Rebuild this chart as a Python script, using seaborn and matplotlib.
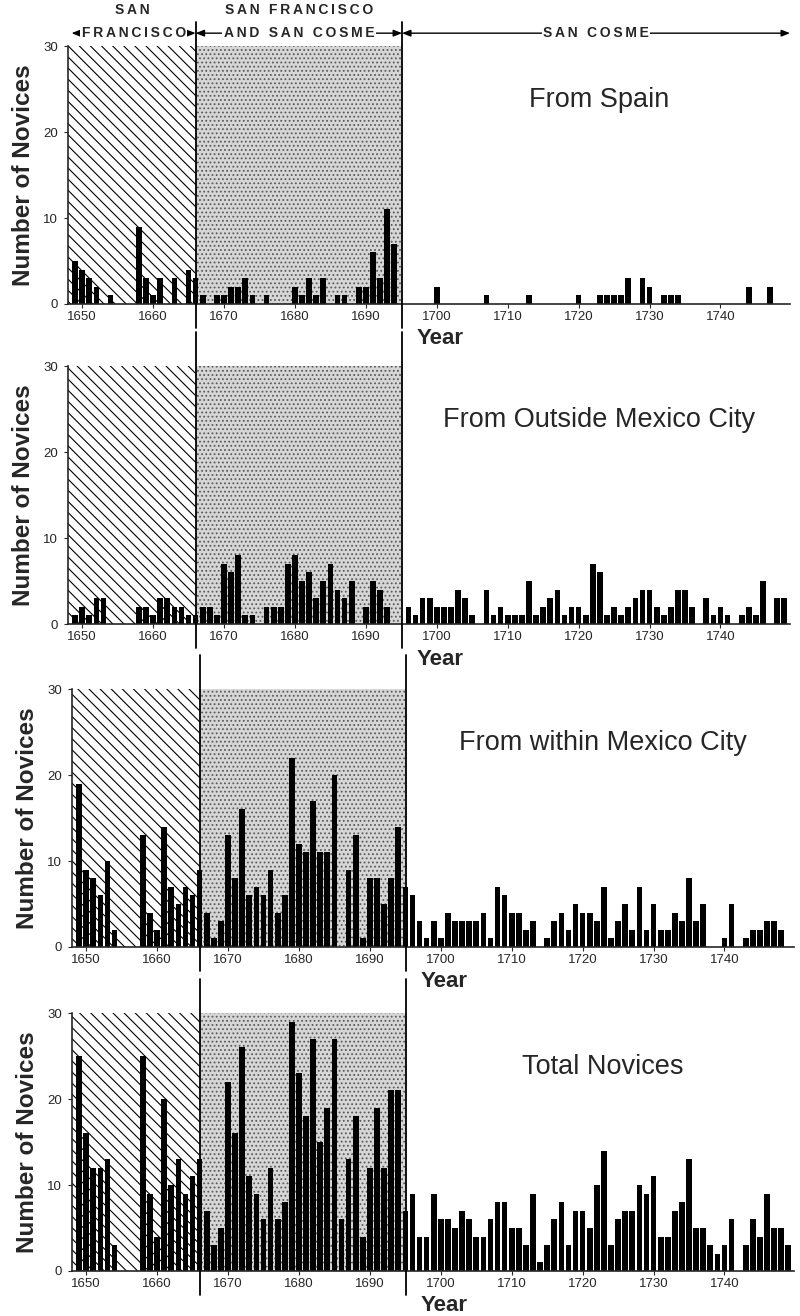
import matplotlib
matplotlib.use("Agg")
import matplotlib.pyplot as plt
import seaborn as sns

# novices entering per year, 1649-1749
years = list(range(1649, 1750))

spain = [5,
         4, 3, 2, 0, 1, 0, 0, 0, 9, 3,      # 1650s
         1, 3, 0, 3, 0, 4, 3, 1, 0, 1,      # 1660s
         1, 2, 2, 3, 1, 0, 1, 0, 0, 0,      # 1670s
         2, 1, 3, 1, 3, 0, 1, 1, 0, 2,      # 1680s
         2, 6, 3, 11, 7, 0, 0, 0, 0, 0,     # 1690s
         2, 0, 0, 0, 0, 0, 0, 1, 0, 0,      # 1700s
         0, 0, 0, 1, 0, 0, 0, 0, 0, 0,      # 1710s
         1, 0, 0, 1, 1, 1, 1, 3, 0, 3,      # 1720s
         2, 0, 1, 1, 1, 0, 0, 0, 0, 0,      # 1730s
         0, 0, 0, 0, 2, 0, 0, 2, 0, 0]      # 1740s

outside = [1,
           2, 1, 3, 3, 0, 0, 0, 0, 2, 2,
           1, 3, 3, 2, 2, 1, 1, 2, 2, 1,
           7, 6, 8, 1, 1, 0, 2, 2, 2, 7,
           8, 5, 6, 3, 5, 7, 4, 3, 5, 0,
           2, 5, 4, 2, 0, 0, 2, 1, 3, 3,
           2, 2, 2, 4, 3, 1, 0, 4, 1, 2,
           1, 1, 1, 5, 1, 2, 3, 4, 1, 2,
           2, 1, 7, 6, 1, 2, 1, 2, 3, 4,
           4, 2, 1, 2, 4, 4, 2, 0, 3, 1,
           2, 1, 0, 1, 2, 1, 5, 0, 3, 3]

within = [19,
          9, 8, 6, 10, 2, 0, 0, 0, 13, 4,
          2, 14, 7, 5, 7, 6, 9, 4, 1, 3,
          13, 8, 16, 6, 7, 6, 9, 4, 6, 22,
          12, 11, 17, 11, 11, 20, 0, 9, 13, 1,
          8, 8, 5, 8, 14, 7, 6, 3, 1, 3,
          1, 4, 3, 3, 3, 3, 4, 1, 7, 6,
          4, 4, 2, 3, 0, 1, 3, 4, 2, 5,
          4, 4, 3, 7, 1, 3, 5, 2, 7, 2,
          5, 2, 2, 4, 3, 8, 3, 5, 0, 0,
          1, 5, 0, 1, 2, 2, 3, 3, 2, 0]

total = [25,
         16, 12, 12, 13, 3, 0, 0, 0, 25, 9,
         4, 20, 10, 13, 9, 11, 13, 7, 3, 5,
         22, 16, 26, 11, 9, 6, 12, 6, 8, 29,
         23, 18, 27, 15, 19, 27, 6, 13, 18, 4,
         12, 19, 12, 21, 21, 7, 9, 4, 4, 9,
         6, 6, 5, 7, 6, 4, 4, 6, 8, 8,
         5, 5, 3, 9, 1, 3, 6, 8, 3, 7,
         7, 5, 10, 14, 3, 6, 7, 7, 10, 9,
         11, 4, 4, 7, 8, 13, 5, 5, 3, 2,
         3, 6, 0, 3, 6, 4, 9, 5, 5, 3]

titles = ["From Spain", "From Outside Mexico City",
          "From within Mexico City", "Total Novices"]
xticks = [1650, 1660, 1670, 1680, 1690, 1700, 1710, 1720, 1730, 1740]
yticks = [0, 10, 20, 30]
split1, split2 = 1666, 1695.1   # convent periods

sns.set_style("ticks")
plt.rcParams["font.family"] = ["Liberation Sans", "DejaVu Sans"]
plt.rcParams["hatch.linewidth"] = 0.8

fig = plt.figure(figsize=(8, 13.16), dpi=100)

# left, bottom of each axes (figure fractions)
boxes = [(0.085, 0.769), (0.085, 0.5258), (0.09, 0.2804), (0.09, 0.0342)]

for i, (vals, title) in enumerate(zip([spain, outside, within, total], titles)):
    left, bottom = boxes[i]
    ax = fig.add_axes([left, bottom, 0.9025, 0.196])

    ax.axvspan(1648, split1, facecolor="white", edgecolor="black",
               hatch="\\\\\\", lw=0, zorder=0)
    ax.axvspan(split1, split2, facecolor="#d6d6d6", edgecolor="#5a5a5a",
               hatch="....", lw=0, zorder=0)

    sns.barplot(x=years, y=vals, native_scale=True, width=0.8,
                color="black", saturation=1, errorbar=None,
                linewidth=0, ax=ax, zorder=2)

    top = 32.8 if i == 0 else 34
    for xv in (split1, split2):
        ax.plot([xv, xv], [-2.8, top], color="black", lw=1.3,
                clip_on=False, zorder=3)

    ax.set_xlim(1648, 1749.8)
    ax.set_ylim(0, 30)
    ax.set_xticks(xticks)
    ax.set_yticks(yticks)
    ax.tick_params(axis="both", labelsize=9.5, length=3, width=0.8, pad=2)
    ax.tick_params(axis="y", pad=4)
    sns.despine(ax=ax)
    ax.spines["left"].set_linewidth(1.2)
    ax.spines["bottom"].set_linewidth(1.2)

    ax.set_ylabel("Number of Novices", fontsize=17.5, fontweight="bold",
                  labelpad=6)
    ax.set_xlabel("Year", fontsize=16, fontweight="bold", labelpad=4,
                  x=0.515)
    ax.text(0.735, 0.79, title, transform=ax.transAxes, fontsize=19.5,
            ha="center", va="center")

    if i == 0:
        hy1, hy2 = 1.14, 1.05
        hdr = dict(transform=ax.get_xaxis_transform(), fontsize=10,
                   fontweight="bold", ha="center", va="center",
                   clip_on=False)
        arrow = dict(arrowstyle="<|-|>,head_length=0.5,head_width=0.2",
                     color="black", lw=1.0, shrinkA=0, shrinkB=0)
        for x0, x1 in [(1648.5, split1), (split1, split2), (split2, 1749.8)]:
            ax.annotate("", xy=(x0, hy2), xytext=(x1, hy2),
                        xycoords=ax.get_xaxis_transform(),
                        arrowprops=arrow, annotation_clip=False)
        box = dict(facecolor="white", edgecolor="none", pad=1)
        sp = "\u2009"
        ax.text((1648 + split1) / 2, hy1, sp.join("SAN"), **hdr)
        ax.text((1648 + split1) / 2 + 0.3, hy2, sp.join("FRANCISCO"),
                bbox=box, **hdr)
        ax.text((split1 + split2) / 2, hy1, sp.join("SAN FRANCISCO"), **hdr)
        ax.text((split1 + split2) / 2, hy2, sp.join("AND SAN COSME"),
                bbox=box, **hdr)
        ax.text((split2 + 1749.8) / 2, hy2, sp.join("SAN COSME"),
                bbox=box, **hdr)

fig.savefig("out.png", dpi=100)
